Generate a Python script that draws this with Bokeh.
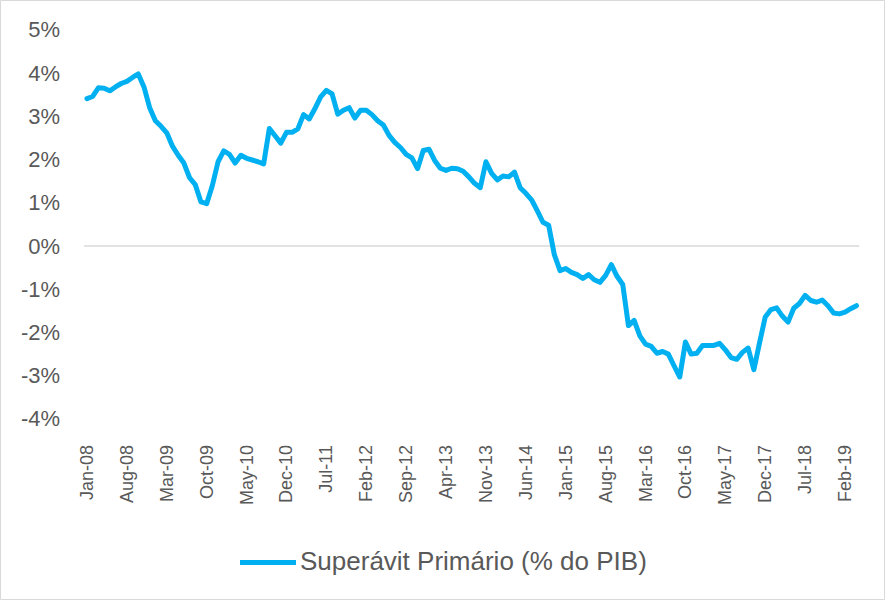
from bokeh.plotting import figure
from bokeh.models import Range1d, FixedTicker, Legend, LegendItem, ColumnDataSource
from bokeh.embed import file_html
from bokeh.resources import INLINE
import math

# Monthly primary surplus (% of GDP), Jan-08 .. Apr-19
values = [
    3.41, 3.46, 3.66, 3.65, 3.59, 3.68, 3.76, 3.81, 3.90, 3.98,
    3.68, 3.20, 2.90, 2.77, 2.62, 2.31, 2.10, 1.92, 1.58, 1.42,
    1.02, 0.98, 1.40, 1.95, 2.20, 2.12, 1.92, 2.10, 2.03, 1.99,
    1.95, 1.90, 2.72, 2.55, 2.38, 2.63, 2.63, 2.71, 3.04, 2.94,
    3.18, 3.45, 3.60, 3.52, 3.05, 3.14, 3.20, 2.96, 3.14, 3.14,
    3.04, 2.90, 2.80, 2.56, 2.40, 2.28, 2.12, 2.04, 1.79, 2.21,
    2.24, 1.98, 1.80, 1.75, 1.80, 1.79, 1.73, 1.60, 1.45, 1.35,
    1.95, 1.68, 1.53, 1.62, 1.60, 1.71, 1.35, 1.22, 1.07, 0.82,
    0.55, 0.48, -0.20, -0.57, -0.52, -0.61, -0.66, -0.75, -0.66, -0.78,
    -0.84, -0.68, -0.43, -0.70, -0.89, -1.84, -1.72, -2.08, -2.27, -2.32,
    -2.48, -2.44, -2.50, -2.77, -3.03, -2.22, -2.50, -2.48, -2.30, -2.30,
    -2.30, -2.25, -2.40, -2.58, -2.62, -2.46, -2.36, -2.86, -2.24, -1.64,
    -1.47, -1.43, -1.62, -1.76, -1.44, -1.33, -1.14, -1.26, -1.30, -1.25,
    -1.38, -1.55, -1.57, -1.53, -1.45, -1.38,
]
month_index = list(range(len(values)))

x_tick_positions = [0, 7, 14, 21, 28, 35, 42, 49, 56, 63, 70, 77, 84, 91, 98, 105, 112, 119, 126, 133]
x_tick_labels = ["Jan-08", "Aug-08", "Mar-09", "Oct-09", "May-10", "Dec-10", "Jul-11", "Feb-12",
                 "Sep-12", "Apr-13", "Nov-13", "Jun-14", "Jan-15", "Aug-15", "Mar-16", "Oct-16",
                 "May-17", "Dec-17", "Jul-18", "Feb-19"]
y_ticks = [-4, -3, -2, -1, 0, 1, 2, 3, 4, 5]
y_tick_labels = ["-4%", "-3%", "-2%", "-1%", "0%", "1%", "2%", "3%", "4%", "5%"]
series_name = "Superávit Primário (% do PIB)"

FONT = "Liberation Sans"
TXT = "#595959"

x_lo = -0.5                      # left edge of the first month slot
x_hi = len(values) - 0.5         # right edge of the last month slot
y_lo, y_hi = y_ticks[0], y_ticks[-1]

# The frame fills the whole figure so that the legend and the pinned axes can
# be drawn inside it; the plotted region is months x -4%..5%.
p = figure(width=885, height=600, output_backend="svg", toolbar_location=None,
           x_range=Range1d(-15.17, 140.1), y_range=Range1d(-8.2, 5.68),
           min_border_left=0, min_border_right=0, min_border_top=0, min_border_bottom=0)
p.outline_line_color = "#d9d9d9"
p.outline_line_width = 1
p.xgrid.visible = False
p.ygrid.visible = False
p.background_fill_color = "white"
p.border_fill_color = "white"

# horizontal axis line at 0%
p.segment(x0=[x_lo], x1=[x_hi], y0=[0], y1=[0], line_color="#d9d9d9", line_width=1.5)

src = ColumnDataSource(dict(x=month_index, y=values))
r = p.line("x", "y", source=src, line_color="#00B0F0", line_width=5, line_join="round", line_cap="round")

p.yaxis.ticker = FixedTicker(ticks=y_ticks)
p.yaxis.major_label_overrides = {t: l for t, l in zip(y_ticks, y_tick_labels)}
p.yaxis.fixed_location = x_lo
p.xaxis.ticker = FixedTicker(ticks=x_tick_positions)
p.xaxis.major_label_overrides = {t: l for t, l in zip(x_tick_positions, x_tick_labels)}
p.xaxis.major_label_orientation = math.pi / 2
p.xaxis.fixed_location = y_lo

for ax in (p.xaxis[0], p.yaxis[0]):
    ax.axis_line_color = None
    ax.major_tick_line_color = None
    ax.minor_tick_line_color = None
    ax.major_label_text_color = TXT
    ax.major_label_text_font = FONT
p.yaxis.major_label_text_font_size = "22px"
p.yaxis.major_label_standoff = 18
p.xaxis.major_label_text_font_size = "18px"
p.xaxis.major_label_standoff = 20

legend = Legend(items=[LegendItem(label=series_name, renderers=[r])], location=(240, 23))
legend.label_text_font = FONT
legend.label_text_font_size = "26px"
legend.label_text_color = TXT
legend.glyph_width = 56
legend.label_standoff = 4
legend.padding = 0
legend.margin = 0
legend.border_line_color = None
legend.background_fill_alpha = 0
p.add_layout(legend, "center")

open("out.html", "w").write(file_html(p, INLINE))
